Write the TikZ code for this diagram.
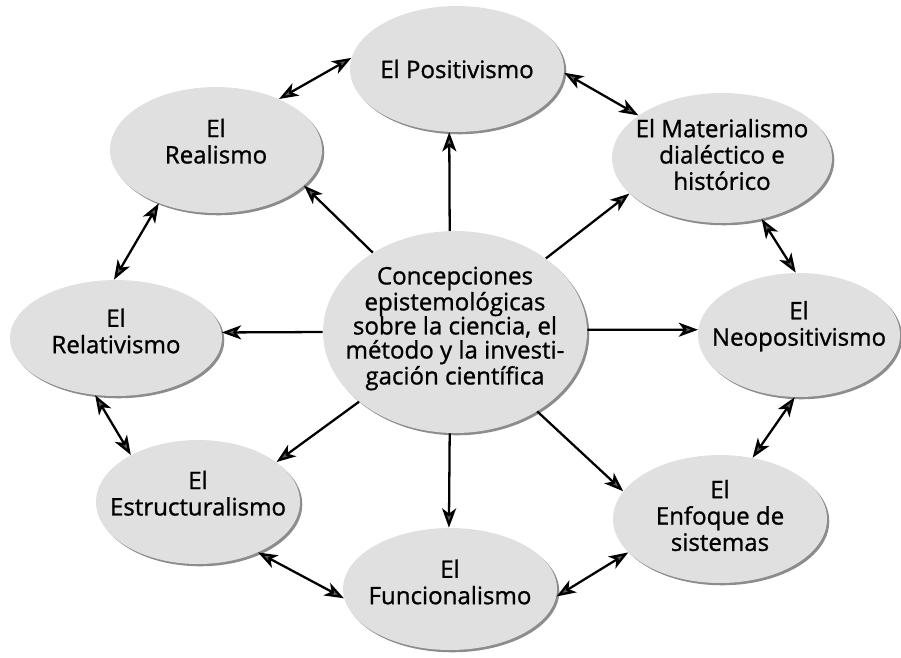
\documentclass[tikz,border=0pt]{standalone}
\usepackage{fontspec}
\setmainfont{Open Sans}[UprightFeatures={FakeBold=1}]
\usetikzlibrary{shapes, arrows.meta, shadows}
\definecolor{ellgray}{RGB}{224, 224, 224}
\definecolor{rimgray}{RGB}{140, 140, 140}
\definecolor{tipgray}{RGB}{90, 90, 90}
\tikzset{
  ellnode/.style={ellipse, fill=ellgray, inner sep=0pt,
    drop shadow={shadow xshift=1.3pt, shadow yshift=-1.3pt, fill=rimgray, opacity=1}},
  elltext/.style={align=center, inner sep=0pt, font=\fontsize{13.7}{15}\selectfont},
  link/.style={line width=1.3pt, -{Stealth[length=11pt, width=8pt, inset=3pt, fill=tipgray]}},
  dlink/.style={line width=1.3pt, {Stealth[length=11pt, width=8pt, inset=3pt, fill=tipgray]}-{Stealth[length=11pt, width=8pt, inset=3pt, fill=tipgray]}}
}

\begin{document}
\begin{tikzpicture}[x=0.02cm, y=-0.02cm]
  \useasboundingbox (0,0) rectangle (901,657);

  % Centre
  \node[ellnode, minimum width=5.28cm, minimum height=4.04cm,
    label={[elltext, yshift=2pt, font=\fontsize{13.7}{13.7}\selectfont]center:{Concepciones\\epistemológicas\\sobre la ciencia, el\\método y la investi-\\gación científica}}] (conc) at (455,332) {};

  % Outer ring
  \node[ellnode, minimum width=4.28cm, minimum height=2.52cm,
    label={[elltext]center:{El Positivismo}}] (pos) at (457,69) {};
  \node[ellnode, minimum width=4.24cm, minimum height=2.52cm,
    label={[elltext, yshift=5pt]center:{El\\Realismo}}] (real) at (216,150) {};
  \node[ellnode, minimum width=4.4cm, minimum height=2.6cm,
    label={[elltext, yshift=2pt]center:{El Materialismo\\dialéctico e\\histórico}}] (mat) at (722,158) {};
  \node[ellnode, minimum width=4.24cm, minimum height=2.32cm,
    label={[elltext, yshift=4pt]center:{El\\Relativismo}}] (rel) at (116,338) {};
  \node[ellnode, minimum width=4.04cm, minimum height=2.48cm,
    label={[elltext, yshift=5pt]center:{El\\Neopositivismo}}] (neo) at (799,335) {};
  \node[ellnode, minimum width=4.08cm, minimum height=2.48cm,
    label={[elltext, yshift=5pt]center:{El\\Estructuralismo}}] (est) at (198,502) {};
  \node[ellnode, minimum width=4.28cm, minimum height=2.44cm,
    label={[elltext, yshift=4pt]center:{El\\Funcionalismo}}] (fun) at (450,589) {};
  \node[ellnode, minimum width=4.28cm, minimum height=2.56cm,
    label={[elltext, yshift=2pt]center:{El\\Enfoque de\\sistemas}}] (enf) at (720,519) {};

  % Spokes
  \draw[link] (conc.136) -- (real.-22);
  \draw[link] (conc.93) -- (pos.263);
  \draw[link] (conc.39) -- (mat.201);
  \draw[link] (conc.1) -- (neo.177);
  \draw[link] (conc.-44) -- (enf.164);
  \draw[link] (conc.-93) -- (fun.91);
  \draw[link] (conc.216) -- (est.27);
  \draw[link] (conc.180) -- (rel.3);

  % Ring
  \draw[dlink] (real.39) -- (pos.174);
  \draw[dlink] (pos.-2) -- (mat.153);
  \draw[dlink] (mat.-57) -- (neo.93);
  \draw[dlink] (neo.266) -- (enf.62);
  \draw[dlink] (enf.200) -- (fun.-4);
  \draw[dlink] (fun.185) -- (est.-40);
  \draw[dlink] (est.145) -- (rel.250);
  \draw[dlink] (rel.92) -- (real.223);
\end{tikzpicture}
\end{document}
